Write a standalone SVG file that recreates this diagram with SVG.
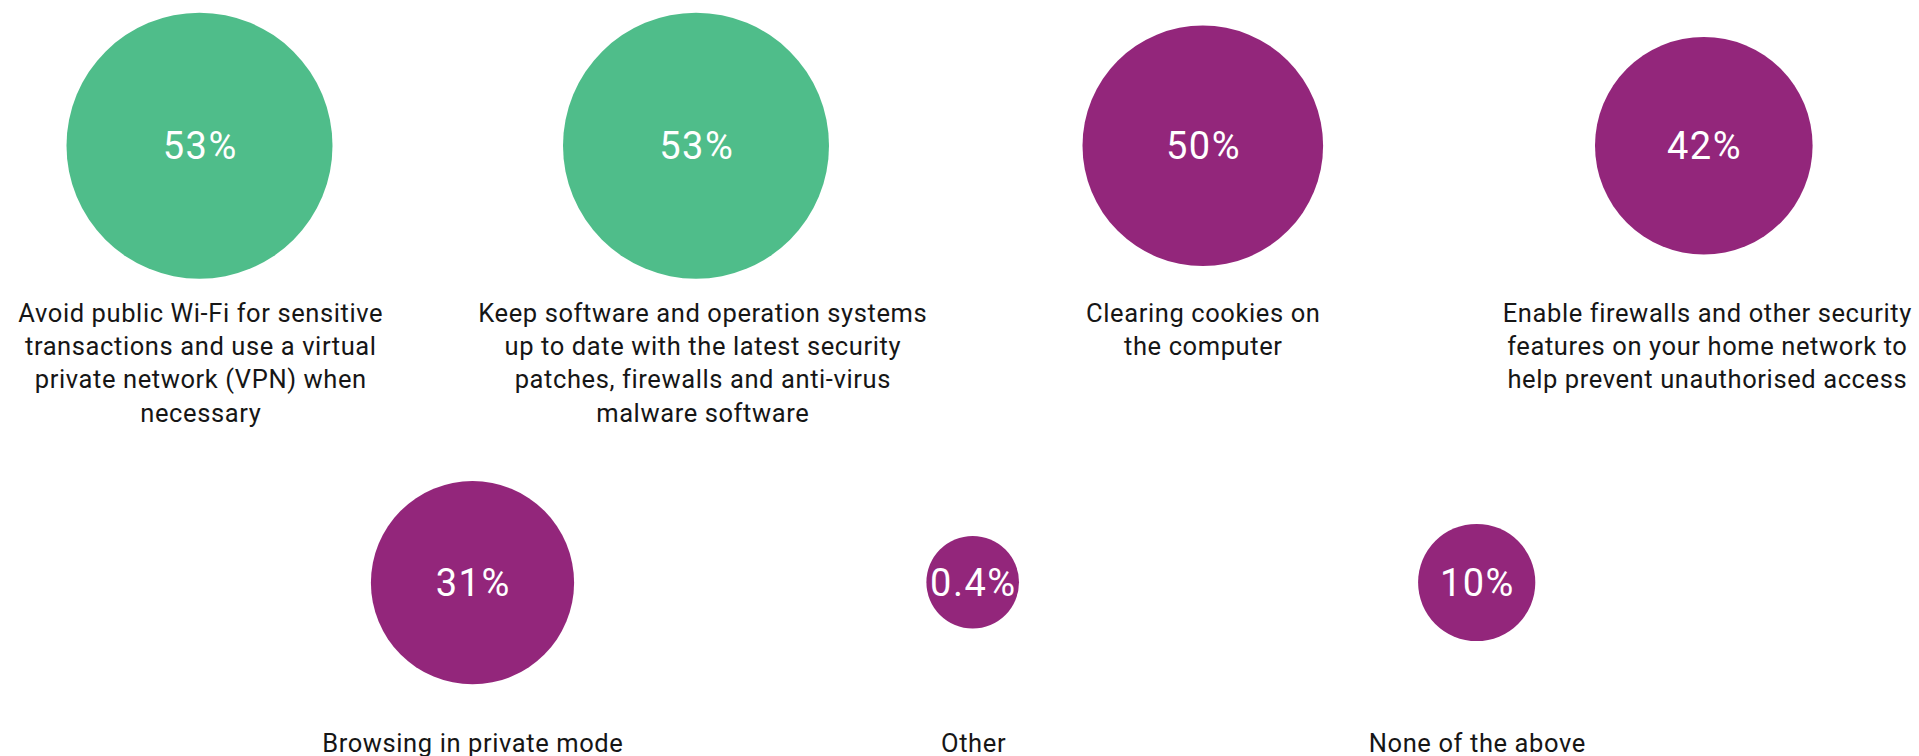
<svg xmlns="http://www.w3.org/2000/svg" width="1919" height="756" viewBox="0 0 1919 756">
  <style>
    .green { fill: #4FBD8A; }
    .purple { fill: #93267B; }
    .pct { font-family: Roboto, "Liberation Sans", sans-serif; font-size: 38px; fill: #FFFFFF; text-anchor: middle; letter-spacing: 1.5px; }
    .label { font-family: Roboto, "Liberation Sans", sans-serif; font-size: 25.5px; font-weight: 400; fill: #161616; text-anchor: middle; letter-spacing: 0.6px; }
  </style>
  <rect width="1919" height="756" fill="#FFFFFF"/>

  <!-- top row -->
  <g id="vpn">
    <circle class="green" cx="199.5" cy="145.7" r="133"/>
    <text class="pct" x="200.2" y="159.3">53%</text>
    <text class="label" x="200.8" y="321.7">Avoid public Wi-Fi for sensitive</text>
    <text class="label" x="200.8" y="355">transactions and use a virtual</text>
    <text class="label" x="200.8" y="388.3">private network (VPN) when</text>
    <text class="label" x="200.8" y="421.5">necessary</text>
  </g>

  <g id="updates">
    <circle class="green" cx="696" cy="145.7" r="133"/>
    <text class="pct" x="696.7" y="159.3">53%</text>
    <text class="label" x="702.8" y="321.7">Keep software and operation systems</text>
    <text class="label" x="702.8" y="355">up to date with the latest security</text>
    <text class="label" x="702.8" y="388.3">patches, firewalls and anti-virus</text>
    <text class="label" x="702.8" y="421.5">malware software</text>
  </g>

  <g id="cookies">
    <circle class="purple" cx="1202.8" cy="145.8" r="120.3"/>
    <text class="pct" x="1203.5" y="159.3">50%</text>
    <text class="label" x="1203.3" y="321.7">Clearing cookies on</text>
    <text class="label" x="1203.3" y="355">the computer</text>
  </g>

  <g id="firewalls">
    <circle class="purple" cx="1703.8" cy="145.7" r="108.8"/>
    <text class="pct" x="1704.5" y="159.3">42%</text>
    <text class="label" x="1707.3" y="321.7">Enable firewalls and other security</text>
    <text class="label" x="1707.3" y="355">features on your home network to</text>
    <text class="label" x="1707.3" y="388.3">help prevent unauthorised access</text>
  </g>

  <!-- bottom row -->
  <g id="private-mode">
    <circle class="purple" cx="472.5" cy="582.7" r="101.6"/>
    <text class="pct" x="473.2" y="596.3">31%</text>
    <text class="label" x="472.8" y="751.6">Browsing in private mode</text>
  </g>

  <g id="other">
    <circle class="purple" cx="972.7" cy="582.2" r="46.3"/>
    <text class="pct" x="973.4" y="596">0.4%</text>
    <text class="label" x="973.6" y="751.6">Other</text>
  </g>

  <g id="none">
    <circle class="purple" cx="1476.7" cy="582.5" r="58.6"/>
    <text class="pct" x="1477.4" y="596.2">10%</text>
    <text class="label" x="1477.3" y="751.6">None of the above</text>
  </g>

  <g id="connectors"/>
</svg>
